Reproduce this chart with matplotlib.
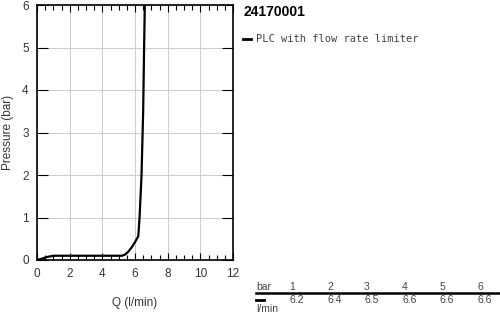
import matplotlib
matplotlib.use("Agg")
import matplotlib.pyplot as plt
from matplotlib.ticker import MultipleLocator

plt.rcParams['font.family'] = ['Liberation Sans', 'DejaVu Sans']

flow = [0.0, 0.3, 0.6, 1.0, 2.0, 4.0, 5.2, 5.4, 5.6, 5.8, 6.0, 6.2, 6.28, 6.4, 6.5, 6.55, 6.6]
pressure = [0.0, 0.03, 0.07, 0.1, 0.1, 0.1, 0.1, 0.13, 0.2, 0.3, 0.42, 0.56, 1.0, 2.0, 3.5, 4.8, 6.0]

title = "24170001"
series_name = "PLC with flow rate limiter"
table_bar = ["1", "2", "3", "4", "5", "6"]
table_flow = ["6.2", "6.4", "6.5", "6.6", "6.6", "6.6"]

W, H = 500, 313
fig = plt.figure(figsize=(5, 3.13), dpi=100)
ax = fig.add_axes([37 / W, 1 - 260 / H, (233 - 37) / W, (260 - 5) / H])

ax.plot(flow, pressure, color='black', lw=1.6, solid_capstyle='butt')
ax.set_xlim(0, 12)
ax.set_ylim(0, 6)
ax.xaxis.set_major_locator(MultipleLocator(2))
ax.xaxis.set_minor_locator(MultipleLocator(0.5))
ax.yaxis.set_major_locator(MultipleLocator(1))
ax.grid(True, which='major', color='#cccccc', lw=0.7)
ax.tick_params(axis='x', which='major', direction='in', top=True, bottom=True, length=5, width=0.8, labelsize=8.5, labelcolor='#333333', pad=6)
ax.tick_params(axis='x', which='minor', direction='in', top=True, bottom=True, length=3.5, width=0.8)
ax.tick_params(axis='y', which='major', direction='in', left=True, right=True, length=8, width=0.8, labelsize=8.5, labelcolor='#333333', pad=6)
for s in ax.spines.values():
    s.set_linewidth(1.2)
ax.set_xlabel("Q (l/min)", fontsize=8.5, color='#333333', labelpad=12)
ax.set_ylabel("Pressure (bar)", fontsize=8.5, color='#333333', labelpad=6)

fig.text(243 / W, 1 - 12 / H, title, fontsize=10, fontweight='bold', ha='left', va='center')
fig.add_artist(plt.Line2D([243 / W, 251 / W], [1 - 39 / H] * 2, color='black', lw=2))
fig.text(256 / W, 1 - 39 / H, series_name, fontsize=7.5, family='DejaVu Sans Mono', color='#444444', ha='left', va='center')

# table
fig.text(256 / W, 1 - 287 / H, "bar", fontsize=7.5, color='#444444', ha='left', va='center')
xs = [292, 330, 367, 405, 442, 480]
for x, b, f in zip(xs, table_bar, table_flow):
    fig.text(x / W, 1 - 287 / H, b, fontsize=7.5, color='#444444', ha='center', va='center')
    fig.text((x + 5) / W, 1 - 300 / H, f, fontsize=7.5, color='#444444', ha='center', va='center')
fig.add_artist(plt.Line2D([256 / W, 500 / W], [1 - 293 / H] * 2, color='black', lw=1.8))
fig.add_artist(plt.Line2D([256 / W, 264 / W], [1 - 300 / H] * 2, color='black', lw=2))
fig.text(256 / W, 1 - 309 / H, "l/min", fontsize=7.5, color='#444444', ha='left', va='center')

fig.savefig("out.png", dpi=100)
